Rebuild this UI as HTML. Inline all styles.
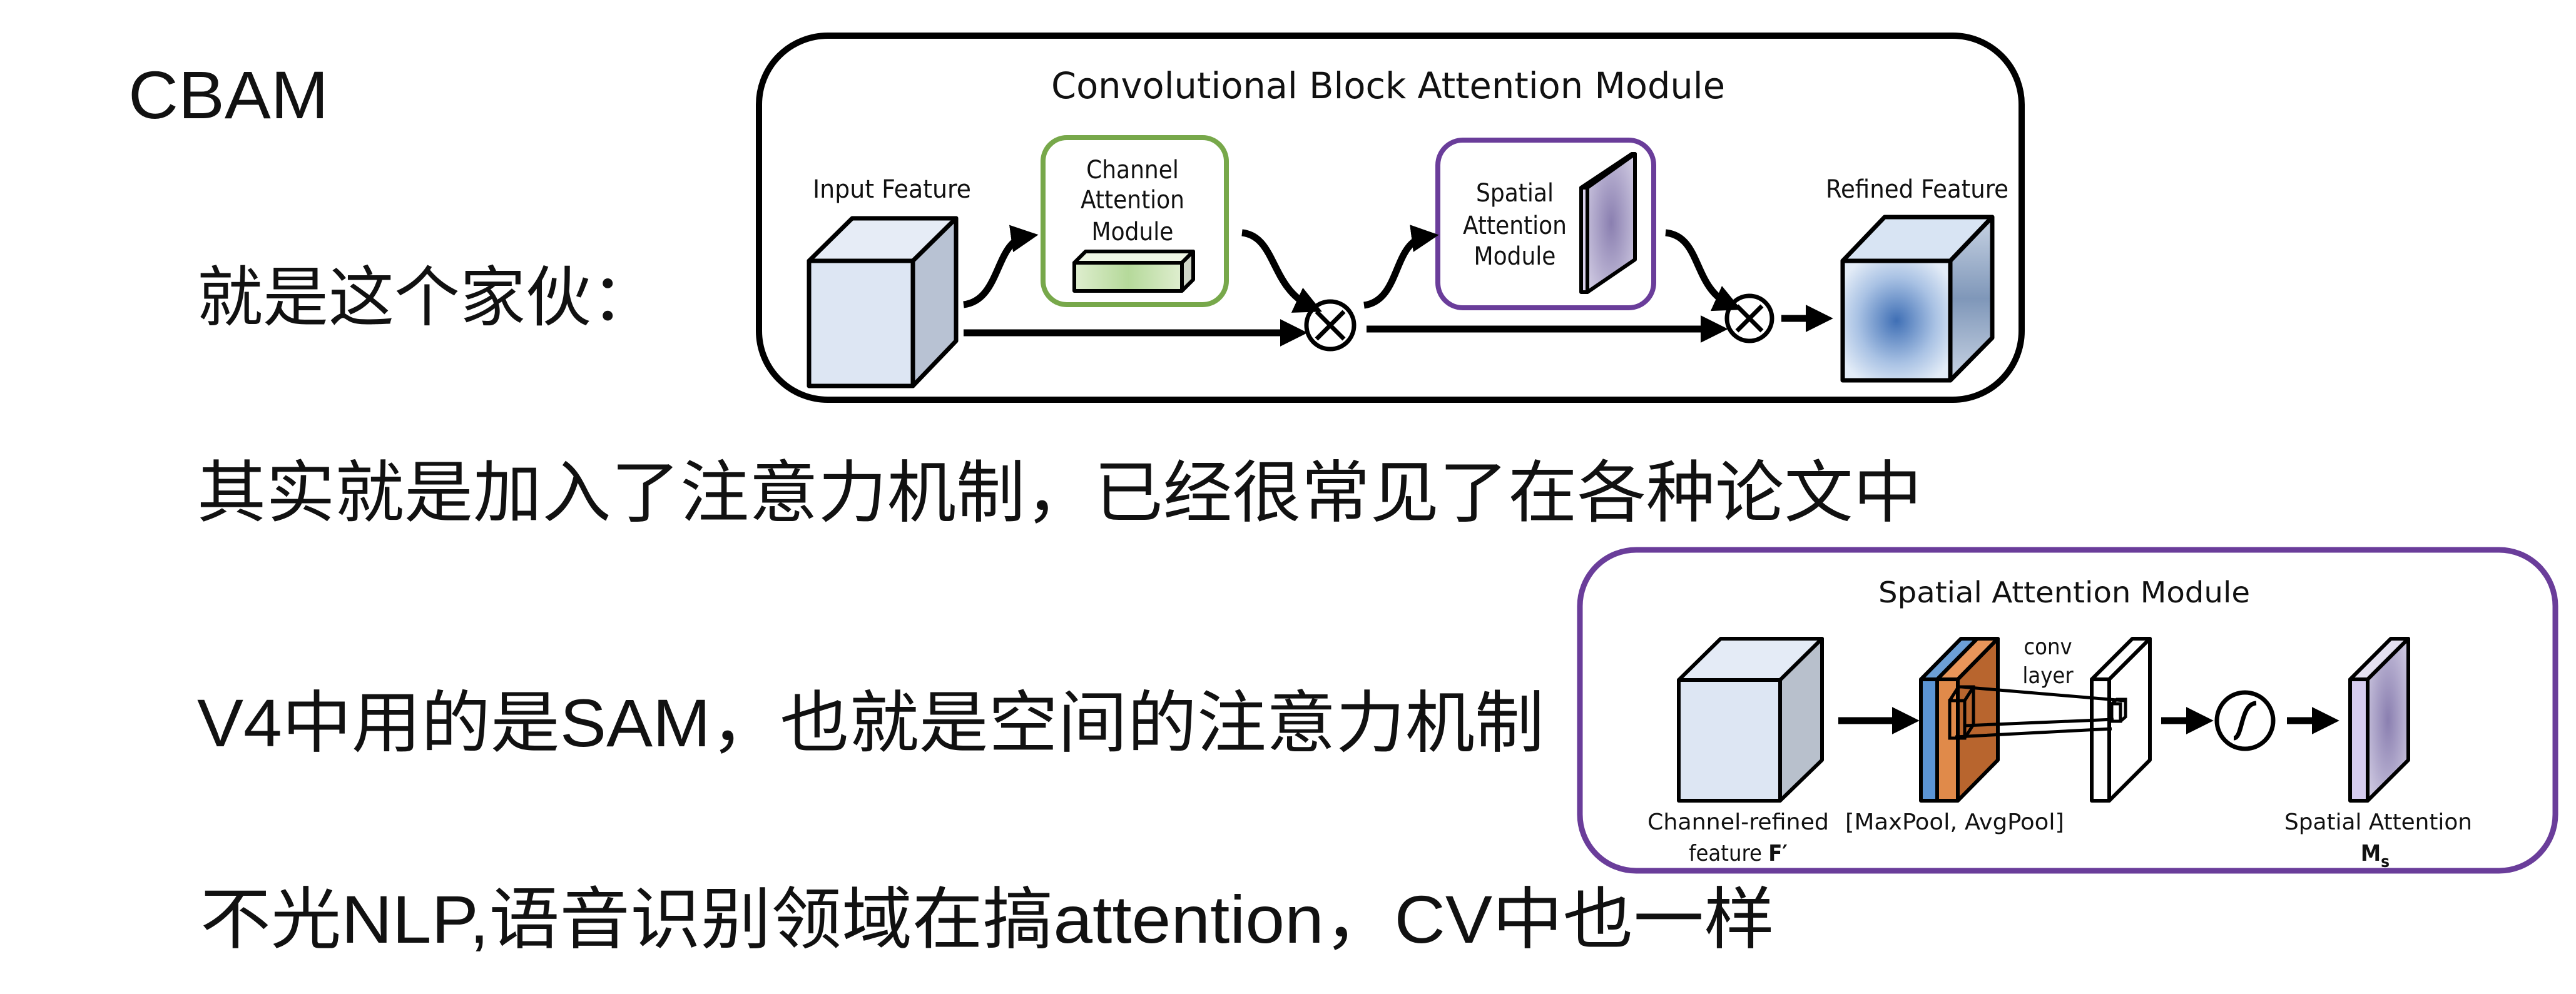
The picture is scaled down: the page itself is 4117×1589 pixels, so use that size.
<!DOCTYPE html>
<html><head><meta charset="utf-8"><style>
html,body{margin:0;padding:0;background:#fff;width:4117px;height:1589px;overflow:hidden}
svg{display:block}
.cn{font-family:"Liberation Sans","Noto Sans CJK SC",sans-serif;fill:#111}
.d{font-family:"DejaVu Sans Condensed","Liberation Sans Narrow","Liberation Sans",sans-serif;fill:#111}
</style></head><body>
<svg width="4117" height="1589" viewBox="0 0 4117 1589" xmlns="http://www.w3.org/2000/svg">
<defs>
<marker id="ah" markerWidth="4" markerHeight="4" refX="2.2" refY="2" orient="auto" markerUnits="strokeWidth"><path d="M0,0 L4,2 L0,4 z" fill="#000"/></marker>
<radialGradient id="rf" cx="50%" cy="50%" r="60%"><stop offset="0" stop-color="#3f6fb5"/><stop offset="0.6" stop-color="#a9c2e4"/><stop offset="1" stop-color="#e3ecf7"/></radialGradient>
<linearGradient id="rfr" x1="0" x2="0" y1="0" y2="1"><stop offset="0" stop-color="#c9d4e4"/><stop offset="0.5" stop-color="#7f97b9"/><stop offset="1" stop-color="#c9d4e4"/></linearGradient>
<radialGradient id="sp" cx="50%" cy="50%" r="70%"><stop offset="0" stop-color="#8a7fb0"/><stop offset="1" stop-color="#d5d0e6"/></radialGradient>
<linearGradient id="gb" x1="0" x2="1"><stop offset="0" stop-color="#dfeecf"/><stop offset="0.5" stop-color="#b5d99a"/><stop offset="1" stop-color="#dfeecf"/></linearGradient>
</defs>

<text class="cn" x="205" y="189" font-size="108" textLength="320" lengthAdjust="spacingAndGlyphs">CBAM</text>
<text class="cn" x="315" y="512" font-size="105" textLength="735" lengthAdjust="spacingAndGlyphs">就是这个家伙：</text>
<text class="cn" x="315" y="825" font-size="108" textLength="2757" lengthAdjust="spacingAndGlyphs">其实就是加入了注意力机制，已经很常见了在各种论文中</text>
<text class="cn" x="315" y="1193" font-size="108" textLength="2153" lengthAdjust="spacingAndGlyphs">V4中用的是SAM，也就是空间的注意力机制</text>
<text class="cn" x="320" y="1507" font-size="108" textLength="2516" lengthAdjust="spacingAndGlyphs">不光NLP,语音识别领域在搞attention，CV中也一样</text>

<rect x="1213" y="57" width="2018" height="582" rx="110" fill="#fff" stroke="#000" stroke-width="10"/>
<text class="d" x="1680" y="157" font-size="58" textLength="1077" lengthAdjust="spacingAndGlyphs">Convolutional Block Attention Module</text>
<text class="d" x="1299" y="316" font-size="40" textLength="253" lengthAdjust="spacingAndGlyphs">Input Feature</text>
<text class="d" x="2918" y="316" font-size="40" textLength="292" lengthAdjust="spacingAndGlyphs">Refined Feature</text>
<g stroke="#000" stroke-width="7" stroke-linejoin="round">
<polygon points="1293,417 1362,349 1528,349 1459,417" fill="#e6ecf6"/>
<polygon points="1459,417 1528,349 1528,545 1459,617" fill="#b8c2d3"/>
<rect x="1293" y="417" width="166" height="200" fill="#dde6f3"/>
<polygon points="2945,417 3012,347 3184,347 3117,417" fill="#d8e4f3"/>
<polygon points="3117,417 3184,347 3184,540 3117,608" fill="url(#rfr)"/>
<rect x="2945" y="417" width="172" height="191" fill="url(#rf)"/>
</g>
<rect x="1667" y="220" width="293" height="267" rx="38" fill="#fff" stroke="#77a84a" stroke-width="8"/>
<text class="d" x="1810" y="285" font-size="40" text-anchor="middle">Channel</text>
<text class="d" x="1810" y="333" font-size="40" text-anchor="middle">Attention</text>
<text class="d" x="1810" y="384" font-size="40" text-anchor="middle">Module</text>
<g stroke="#000" stroke-width="6" stroke-linejoin="round">
<polygon points="1717,420 1735,402 1907,402 1889,420" fill="#eef5e4"/>
<polygon points="1889,420 1907,402 1907,447 1889,465" fill="#d0d6c8"/>
<rect x="1717" y="420" width="172" height="45" fill="url(#gb)"/>
</g>
<rect x="2298" y="224" width="345" height="268" rx="40" fill="#fff" stroke="#6a3d9a" stroke-width="8"/>
<text class="d" x="2421" y="322" font-size="40" text-anchor="middle">Spatial</text>
<text class="d" x="2421" y="374" font-size="40" text-anchor="middle">Attention</text>
<text class="d" x="2421" y="423" font-size="40" text-anchor="middle">Module</text>
<g stroke="#000" stroke-width="6" stroke-linejoin="round">
<polygon points="2527,300 2608,246 2613,246 2537,300" fill="#eae6f3"/>
<polygon points="2537,300 2613,246 2613,415 2537,467" fill="url(#sp)"/>
<rect x="2527" y="300" width="10" height="167" fill="#d8d0ec"/>
</g>
<g stroke="#000" stroke-width="7" fill="#fff">
<circle cx="2126" cy="520" r="38"/>
<circle cx="2796" cy="509" r="36"/>
<path d="M2104,498 L2148,542 M2148,498 L2104,542 M2776,489 L2816,529 M2816,489 L2776,529" fill="none"/>
</g>
<g stroke="#000" stroke-width="11" fill="none">
<line x1="1540" y1="532" x2="2070" y2="532" marker-end="url(#ah)"/>
<line x1="2184" y1="526" x2="2742" y2="526" marker-end="url(#ah)"/>
<line x1="2847" y1="509" x2="2910" y2="509" marker-end="url(#ah)"/>
<path d="M1540,487 C1600,480 1590,385 1640,378" marker-end="url(#ah)"/>
<path d="M1985,372 C2040,378 2030,460 2095,490" marker-end="url(#ah)"/>
<path d="M2180,488 C2240,480 2225,385 2280,378" marker-end="url(#ah)"/>
<path d="M2662,372 C2720,378 2705,460 2765,487" marker-end="url(#ah)"/>
</g>

<rect x="2525" y="879" width="1559" height="513" rx="90" fill="#fff" stroke="#6a3d9a" stroke-width="9"/>
<text class="d" x="3299" y="963" font-size="46" text-anchor="middle" textLength="594" lengthAdjust="spacingAndGlyphs">Spatial Attention Module</text>
<g stroke="#000" stroke-width="6" stroke-linejoin="round">
<polygon points="2683,1087 2750,1021 2912,1021 2845,1087" fill="#e4ebf6"/>
<polygon points="2845,1087 2912,1021 2912,1215 2845,1280" fill="#b8c0cc"/>
<rect x="2683" y="1087" width="162" height="193" fill="#dde6f3"/>
<polygon points="3070,1086 3134,1021 3160,1021 3096,1086" fill="#6c9fd6"/>
<rect x="3070" y="1086" width="26" height="194" fill="#5b94d4"/>
<polygon points="3096,1086 3160,1021 3193,1021 3129,1086" fill="#e8955a"/>
<polygon points="3129,1086 3193,1021 3193,1215 3129,1280" fill="#b8652e"/>
<rect x="3096" y="1086" width="33" height="194" fill="#e08a4a"/>
<polygon points="3343,1086 3408,1021 3436,1021 3371,1086" fill="#fff"/>
<polygon points="3371,1086 3436,1021 3436,1215 3371,1280" fill="#fff"/>
<rect x="3343" y="1086" width="28" height="194" fill="#fff"/>
<polygon points="3756,1086 3821,1021 3849,1021 3784,1086" fill="#e4e0f0"/>
<polygon points="3784,1086 3849,1021 3849,1215 3784,1280" fill="url(#sp)"/>
<rect x="3756" y="1086" width="28" height="194" fill="#d6ccef"/>
</g>
<g stroke="#000" stroke-width="5" fill="none">
<rect x="3116" y="1120" width="24" height="60"/>
<path d="M3116,1120 L3130,1098 L3154,1098 L3154,1158 L3140,1180 M3140,1120 L3154,1098"/>
<path d="M3135,1098 L3395,1120 M3140,1160 L3378,1150 M3125,1178 L3375,1165"/>
<rect x="3375" y="1125" width="14" height="28"/>
<path d="M3375,1125 L3383,1118 L3397,1118 L3397,1146 L3389,1153"/>
</g>
<text class="d" x="3273" y="1046" font-size="36" text-anchor="middle">conv</text>
<text class="d" x="3273" y="1092" font-size="36" text-anchor="middle">layer</text>
<g stroke="#000" stroke-width="11" fill="none">
<line x1="2938" y1="1152" x2="3048" y2="1152" marker-end="url(#ah)"/>
<line x1="3454" y1="1152" x2="3518" y2="1152" marker-end="url(#ah)"/>
<line x1="3655" y1="1152" x2="3719" y2="1152" marker-end="url(#ah)"/>
</g>
<circle cx="3588" cy="1152" r="45" fill="#fff" stroke="#000" stroke-width="7"/>
<path d="M3570,1180 C3585,1180 3580,1125 3606,1124" stroke="#000" stroke-width="7" fill="none"/>
<text class="d" x="2778" y="1326" font-size="36" text-anchor="middle" textLength="290" lengthAdjust="spacingAndGlyphs">Channel-refined</text>
<text class="d" x="2778" y="1376" font-size="36" text-anchor="middle">feature <tspan font-weight="bold">F′</tspan></text>
<text class="d" x="3124" y="1326" font-size="36" text-anchor="middle" textLength="350" lengthAdjust="spacingAndGlyphs">[MaxPool, AvgPool]</text>
<text class="d" x="3801" y="1326" font-size="36" text-anchor="middle" textLength="300" lengthAdjust="spacingAndGlyphs">Spatial Attention</text>
<text class="d" x="3796" y="1376" font-size="36" text-anchor="middle" font-weight="bold">M<tspan font-size="26" dy="10">s</tspan></text>
</svg>
</body></html>
